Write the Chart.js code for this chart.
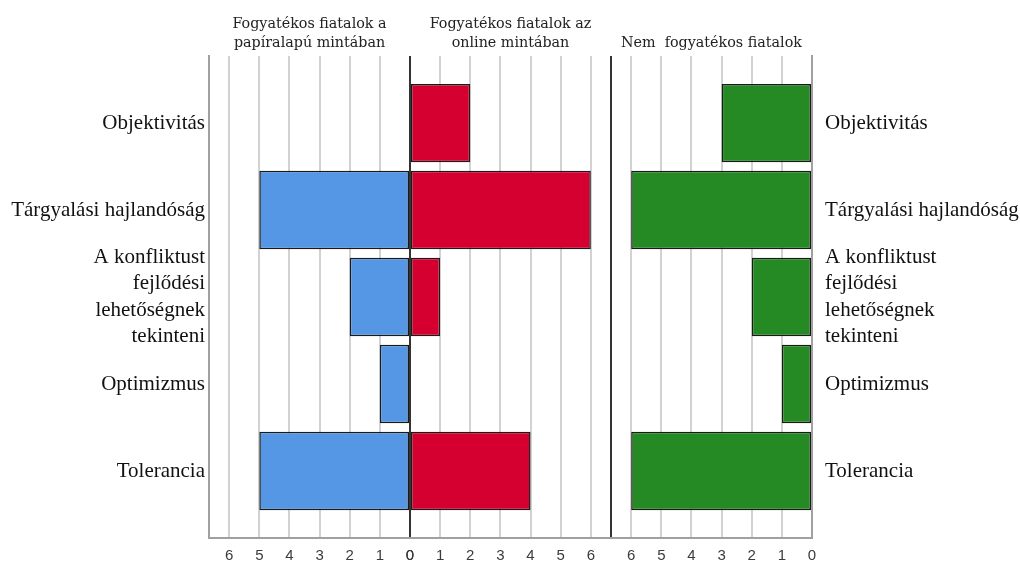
<!DOCTYPE html>
<html>
<head>
<meta charset="utf-8">
<script src="https://cdn.jsdelivr.net/npm/chart.js@4"></script>
<style>
  html, body { margin: 0; padding: 0; background: #fff; }
  #wrap { width: 1020px; height: 563px; }
</style>
</head>
<body>
<div id="wrap"><canvas id="chart"></canvas></div>
<script>
const categories = [
  "Objektivitás",
  "Tárgyalási hajlandóság",
  ["A konfliktust", "fejlődési", "lehetőségnek", "tekinteni"],
  "Optimizmus",
  "Tolerancia"
];
const paperValues = [0, 5, 2, 1, 5];
const onlineValues = [2, 6, 1, 0, 4];
const nonDisabledValues = [3, 6, 2, 1, 6];
const panelTitles = [
  ["Fogyatékos fiatalok a", "papíralapú mintában"],
  ["Fogyatékos fiatalok az", "online mintában"],
  ["", "Nem  fogyatékos fiatalok"]
];
const tickValues = [0, 1, 2, 3, 4, 5, 6];
const axisMax = 6.67;

const gridLight = "#d2d2d2";
const gridDark = "#333333";
const frameGray = "#a0a0a0";

function toPoints(vals) {
  return vals.map((v, i) => ({ x: v, y: i }));
}

function barSet(label, vals, axis, color) {
  return {
    label: label,
    data: toPoints(vals),
    xAxisID: axis,
    yAxisID: "y",
    backgroundColor: color,
    borderColor: "#1a1a1a",
    borderWidth: 1.5,
    borderSkipped: false,
    grouped: false,
    barPercentage: 0.9,
    categoryPercentage: 1
  };
}

const labelFont = { family: "'Liberation Serif', 'Times New Roman', serif", size: 21, lineHeight: 1.25 };
const tickFont = { family: "'Liberation Sans Narrow', 'Liberation Sans', Arial, sans-serif", size: 15 };
const titleFont = { family: "'DejaVu Serif', serif", size: 14.3, lineHeight: 1.33 };

function categoryAxis(position, pad, width) {
  return {
    type: "linear",
    position: position,
    reverse: true,
    offset: false,
    min: -0.77,
    max: 4.77,
    afterBuildTicks: s => { s.ticks = categories.map((c, i) => ({ value: i })); },
    afterFit: s => {
      s.width = width;
      s.paddingTop = 0;
      s.paddingBottom = 0;
    },
    ticks: {
      autoSkip: false,
      padding: pad,
      color: "#111",
      font: labelFont,
      callback: v => categories[v]
    },
    grid: { display: false, drawTicks: false },
    border: { display: true, color: frameGray, width: 2 }
  };
}

function valueAxis(reverse, withEdge, zeroColor) {
  const ticks = withEdge ? tickValues.concat([axisMax]) : tickValues;
  return {
    type: "linear",
    position: "bottom",
    stack: "bottom",
    stackWeight: 1,
    reverse: reverse,
    min: 0,
    max: axisMax,
    afterBuildTicks: s => { s.ticks = ticks.map(v => ({ value: v })); },
    afterFit: s => { s.height = 25; },
    ticks: {
      autoSkip: false,
      maxRotation: 0,
      padding: 9,
      color: "#3a3a3a",
      font: tickFont,
      callback: v => (tickValues.includes(v) ? String(v) : "")
    },
    grid: {
      drawTicks: false,
      lineWidth: 2,
      color: ctx => {
        if (!ctx.tick) return gridLight;
        if (ctx.tick.value === 0) return zeroColor;
        if (ctx.tick.value === axisMax) return gridDark;
        return gridLight;
      }
    },
    border: { display: true, color: frameGray, width: 2 }
  };
}

function titleAxis(text) {
  return {
    type: "linear",
    position: "top",
    stack: "top",
    stackWeight: 1,
    ticks: { display: false },
    grid: { display: false, drawTicks: false },
    border: { display: false },
    title: {
      display: true,
      text: text,
      color: "#222",
      font: titleFont,
      padding: { top: 6.5, bottom: 3.5 }
    }
  };
}

const ctx = document.getElementById("chart").getContext("2d");
const chart = new Chart(ctx, {
  type: "bar",
  data: {
    datasets: [
      barSet("Fogyatékos fiatalok a papíralapú mintában", paperValues, "x1", "#5597e4"),
      barSet("Fogyatékos fiatalok az online mintában", onlineValues, "x2", "#d5002f"),
      barSet("Nem fogyatékos fiatalok", nonDisabledValues, "x3", "#268a24")
    ]
  },
  options: {
    indexAxis: "y",
    responsive: true,
    maintainAspectRatio: false,
    animation: false,
    layout: { padding: { top: 8, bottom: 0, left: 0, right: 0 } },
    plugins: {
      legend: { display: false },
      tooltip: { enabled: false }
    },
    scales: {
      y: categoryAxis("left", 4, 209),
      yRight: categoryAxis("right", 13, 208),
      x1: valueAxis(true, false, gridDark),
      x2: valueAxis(false, true, gridDark),
      x3: valueAxis(true, false, frameGray),
      // top boxes are laid out in reverse order, so list them right to left
      t3: titleAxis(panelTitles[2]),
      t2: titleAxis(panelTitles[1]),
      t1: titleAxis(panelTitles[0])
    }
  }
});
</script>
</body>
</html>
